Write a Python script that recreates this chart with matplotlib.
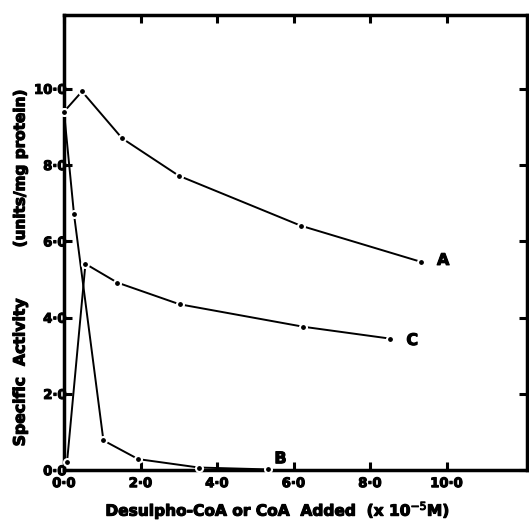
import matplotlib
matplotlib.use("Agg")
from matplotlib import pyplot as plt
import matplotlib.patheffects as pe

# curve A
xA = [0.0, 0.47, 1.52, 3.0, 6.19, 9.34]
yA = [9.4, 9.93, 8.70, 7.72, 6.41, 5.46]
# curve B
xB = [0.0, 0.26, 1.03, 1.94, 3.52, 5.33]
yB = [9.4, 6.72, 0.78, 0.29, 0.07, 0.02]
# curve C
xC = [0.08, 0.56, 1.39, 3.02, 6.26, 8.52]
yC = [0.22, 5.41, 4.92, 4.35, 3.76, 3.45]

ticks = [0, 2, 4, 6, 8, 10]
tick_labels = ["0·0", "2·0", "4·0", "6·0", "8·0", "10·0"]

plt.rcParams['font.family'] = ['DejaVu Sans']
heavy = [pe.withStroke(linewidth=0.8, foreground='black')]

fig = plt.figure(figsize=(5.29, 5.23), dpi=100)
ax = fig.add_axes([0.121, 0.101, 0.875, 0.870])

for xs, ys in [(xA, yA), (xB, yB), (xC, yC)]:
    ax.plot(xs, ys, color='black', lw=1.4, marker='o', ms=5,
            mfc='black', mec='white', mew=1.5, clip_on=False, zorder=3)

ax.text(9.75, 5.5, "A", fontsize=11.5, fontweight='bold', va='center', path_effects=heavy)
ax.text(8.95, 3.4, "C", fontsize=11.5, fontweight='bold', va='center', path_effects=heavy)
ax.text(5.5, 0.3, "B", fontsize=11.5, fontweight='bold', va='center', path_effects=heavy)

ax.set_xlim(0, 12.1)
ax.set_ylim(0, 11.93)
ax.set_xticks(ticks)
ax.set_xticklabels(tick_labels, fontweight='bold', fontsize=9.5, path_effects=heavy)
ax.set_yticks(ticks)
ax.set_yticklabels(tick_labels, fontweight='bold', fontsize=9.5, path_effects=heavy)
ax.tick_params(direction='in', length=6, width=2.2, top=True, right=True)
ax.tick_params(axis='x', pad=5)
ax.tick_params(axis='y', pad=-2)
for s in ax.spines.values():
    s.set_linewidth(2.5)

fig.text(0.524, 0.025, "Desulpho-CoA or CoA  Added  (x 10$^{-5}$M)", fontweight='bold',
         fontsize=11.1, ha='center', va='center', path_effects=heavy)
fig.text(0.038, 0.289, "Specific  Activity", fontweight='bold', fontsize=11.3,
         rotation=90, ha='center', va='center', path_effects=heavy)
fig.text(0.038, 0.677, "(units/mg protein)", fontweight='bold', fontsize=11,
         rotation=90, ha='center', va='center', path_effects=heavy)

fig.savefig("out.png", dpi=100)
